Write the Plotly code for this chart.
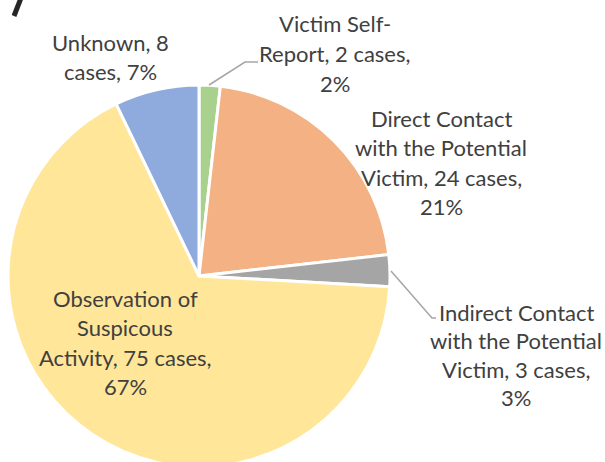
import plotly.graph_objects as go

categories = ["Victim Self-Report", "Direct Contact with the Potential Victim",
              "Indirect Contact with the Potential Victim",
              "Observation of Suspicous Activity", "Unknown"]
cases = [2, 24, 3, 75, 8]
percent_labels = ["2%", "21%", "3%", "67%", "7%"]
colors = ["#A9D18E", "#F4B183", "#A5A5A5", "#FFE699", "#8FAADC"]

# label text lines as shown in the chart
label_lines = [
    ["Victim Self-", "Report, 2 cases,", "2%"],
    ["Direct Contact", "with the Potential", "Victim, 24 cases,", "21%"],
    ["Indirect Contact", "with the Potential", "Victim, 3 cases,", "3%"],
    ["Observation of", "Suspicous", "Activity, 75 cases,", "67%"],
    ["Unknown, 8", "cases, 7%"],
]
# label block anchors (pixel centre x, first line y, line spacing)
label_pos = [(335, 24, 29.5), (441, 118, 29.5), (516, 312, 28.5),
             (125, 298, 29.5), (110, 42, 29.5)]

W, H = 605, 552

def px(x):
    return x / W

def py(y):
    return 1 - y / H

fig = go.Figure(go.Pie(
    labels=categories, values=cases, sort=False, direction="clockwise",
    rotation=0, textinfo="none", hoverinfo="label+value+percent",
    marker=dict(colors=colors, line=dict(color="white", width=3)),
    domain=dict(x=[px(8), px(390)], y=[0, 1]),
    showlegend=False,
))

annotations = []
for lines, (cx, y0, sp) in zip(label_lines, label_pos):
    for i, t in enumerate(lines):
        annotations.append(dict(
            x=px(cx), y=py(y0 + i * sp), xref="paper", yref="paper",
            text=t, showarrow=False, xanchor="center", yanchor="middle",
            font=dict(family="Lato", size=22, color="#404040"),
        ))

leader = dict(color="#A6A6A6", width=1.5)
shapes = [
    dict(type="path", xref="paper", yref="paper", line=leader,
         path=f"M {px(209)},{py(85)} L {px(245)},{py(62)} L {px(258)},{py(62)}"),
    dict(type="path", xref="paper", yref="paper", line=leader,
         path=f"M {px(391)},{py(271)} L {px(432)},{py(318)} L {px(436)},{py(318)}"),
    dict(type="line", xref="paper", yref="paper", line=dict(color="#262626", width=5),
         x0=px(14), y0=py(16), x1=px(21), y1=py(-2)),
]

fig.update_layout(
    width=W, height=H, margin=dict(l=0, r=0, t=0, b=0),
    paper_bgcolor="white", plot_bgcolor="white",
    annotations=annotations, shapes=shapes,
)

fig.write_html(
    "out.html",
    config={"displayModeBar": False},
    post_script="document.body.style.margin='0';document.body.style.overflow='hidden';",
)
